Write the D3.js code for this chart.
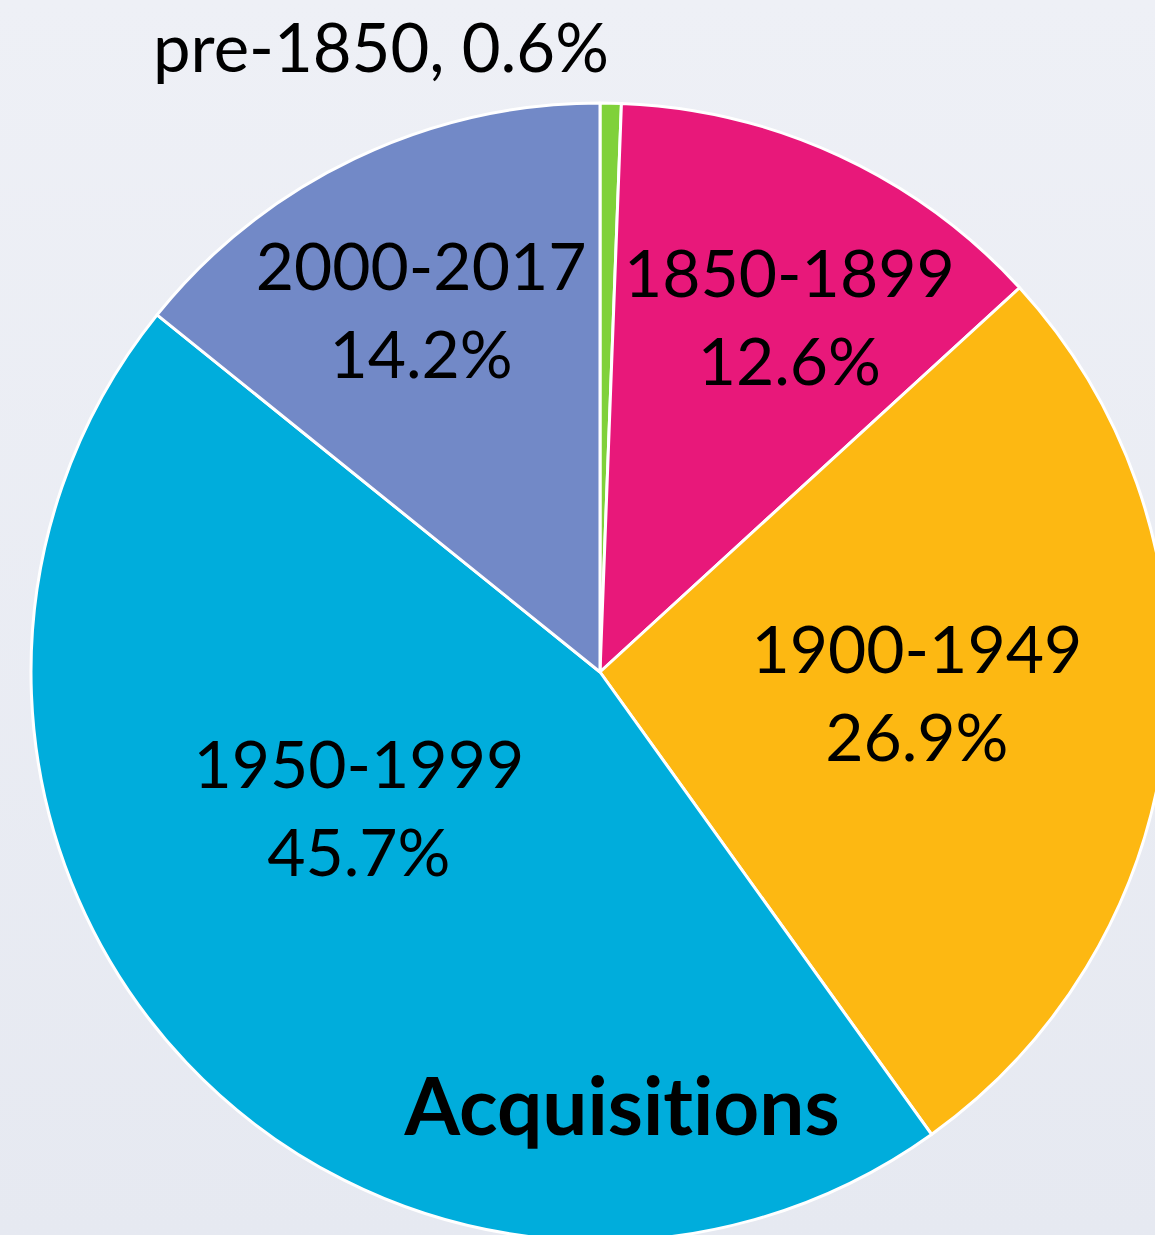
<!DOCTYPE html>
<html>
<head>
<meta charset="utf-8">
<script src="https://cdn.jsdelivr.net/npm/d3@7"></script>
<style>
  body { margin: 0; padding: 0; overflow: hidden; }
  svg { display: block; }
  text { font-variant-ligatures: none; font-feature-settings: "liga" 0; }
</style>
</head>
<body>
<div id="chart"></div>
<script>
// Chart data
const categories = ["pre-1850", "1850-1899", "1900-1949", "1950-1999", "2000-2017"];
const shares = [0.6, 12.6, 26.9, 45.7, 14.2];
const valueLabels = ["0.6%", "12.6%", "26.9%", "45.7%", "14.2%"];
const sliceColors = ["#80d13a", "#e8187a", "#fdb812", "#00addc", "#7289c7"];
const title = "Acquisitions";

// Canvas
const width = 1155;
const height = 1235;
const cx = 600;
const cy = 672;
const radius = 569;

const svg = d3.select("#chart")
    .append("svg")
    .attr("width", width)
    .attr("height", height);

// Soft background gradient
const grad = svg.append("defs").append("linearGradient")
    .attr("id", "bg")
    .attr("x1", 0).attr("y1", 0).attr("x2", 0).attr("y2", 1);
grad.append("stop").attr("offset", "0%").attr("stop-color", "#eef0f6");
grad.append("stop").attr("offset", "100%").attr("stop-color", "#e6e9f1");

svg.append("rect")
    .attr("width", width)
    .attr("height", height)
    .attr("fill", "url(#bg)");

const data = categories.map((c, i) => ({ name: c, value: shares[i], label: valueLabels[i], color: sliceColors[i] }));

const pie = d3.pie()
    .value(d => d.value)
    .sort(null);

const arc = d3.arc()
    .innerRadius(0)
    .outerRadius(radius);

const arcs = pie(data);

const g = svg.append("g")
    .attr("transform", `translate(${cx},${cy})`);

g.selectAll("path")
    .data(arcs)
    .enter()
    .append("path")
    .attr("d", arc)
    .attr("fill", d => d.data.color)
    .attr("stroke", "white")
    .attr("stroke-width", 3)
    .attr("stroke-linejoin", "round");

// Label placement: radius fraction and angle nudge (degrees) for each slice
const labelLayout = [
    null,
    { r: 0.673, da: 4.8 },
    { r: 0.562, da: 1.8 },
    { r: 0.507, da: 10.1 },
    { r: 0.675, da: -2.2 }
];

const fontFamily = "Lato, 'Open Sans', sans-serif";
const fontSize = 66;
const lineGap = 88;

arcs.forEach((a, i) => {
    const lay = labelLayout[i];
    if (!lay) return;
    const mid = (a.startAngle + a.endAngle) / 2 + lay.da * Math.PI / 180;
    const x = Math.sin(mid) * radius * lay.r;
    const y = -Math.cos(mid) * radius * lay.r;
    const t = g.append("text")
        .attr("text-anchor", "middle")
        .attr("font-family", fontFamily)
        .attr("font-size", fontSize)
        .attr("fill", "#000");
    t.append("tspan")
        .attr("x", x)
        .attr("y", y - lineGap / 2 + 2)
        .text(a.data.name);
    t.append("tspan")
        .attr("x", x)
        .attr("y", y + lineGap / 2 + 2)
        .text(a.data.label);
});

// Small slice gets its label outside, above the pie
const small = arcs[0];
svg.append("text")
    .attr("x", 381)
    .attr("y", 72)
    .attr("text-anchor", "middle")
    .attr("font-family", fontFamily)
    .attr("font-size", 67)
    .attr("fill", "#000")
    .text(`${small.data.name}, ${small.data.label}`);

// Title inside the big slice
svg.append("text")
    .attr("x", 622)
    .attr("y", 1135)
    .attr("text-anchor", "middle")
    .attr("font-family", fontFamily)
    .attr("font-weight", "bold")
    .attr("font-size", 80)
    .attr("fill", "#000")
    .text(title);
</script>
</body>
</html>
